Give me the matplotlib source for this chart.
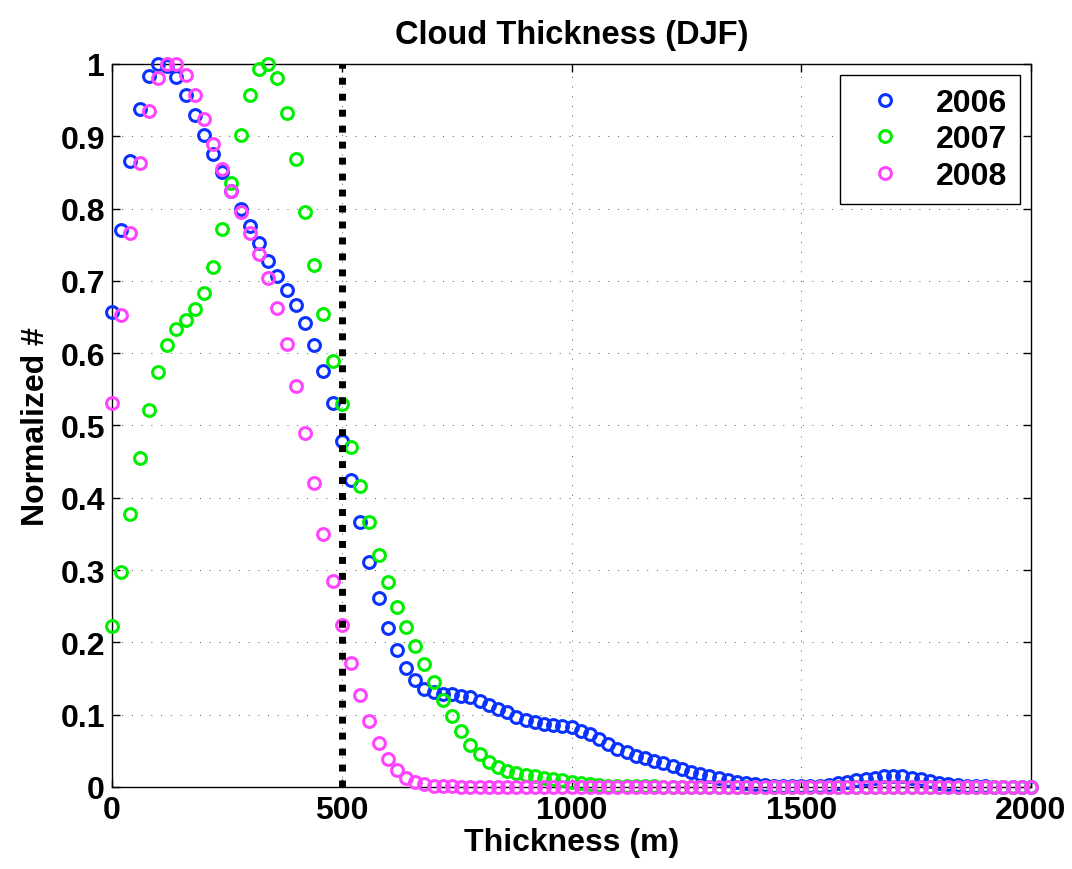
import matplotlib
matplotlib.use('Agg')
import matplotlib.pyplot as plt
import numpy as np

# Hrubka oblakov - stredy intervalov (m)
thickness = np.arange(0, 2001, 20)

# Normalizovane pocty pre jednotlive roky (odcitane z grafu)
n_2006 = [0.657, 0.770, 0.866, 0.938, 0.983, 1.000, 0.997, 0.982, 0.957, 0.930,
          0.902, 0.876, 0.850, 0.825, 0.800, 0.776, 0.752, 0.728, 0.707, 0.688,
          0.667, 0.642, 0.611, 0.575, 0.531, 0.479, 0.425, 0.367, 0.311, 0.262,
          0.220, 0.189, 0.164, 0.148, 0.136, 0.131, 0.129, 0.129, 0.126, 0.124,
          0.119, 0.113, 0.108, 0.103, 0.097, 0.092, 0.090, 0.087, 0.086, 0.084,
          0.083, 0.078, 0.073, 0.066, 0.059, 0.053, 0.048, 0.043, 0.040, 0.036,
          0.033, 0.029, 0.025, 0.021, 0.018, 0.015, 0.012, 0.010, 0.007, 0.005,
          0.004, 0.003, 0.002, 0.002, 0.002, 0.002, 0.002, 0.002, 0.003, 0.005,
          0.007, 0.009, 0.011, 0.013, 0.015, 0.015, 0.015, 0.013, 0.011, 0.008,
          0.006, 0.004, 0.003, 0.002, 0.001, 0.001, 0.000, 0.000, 0.000, 0.000,
          0.000]

n_2007 = [0.223, 0.297, 0.377, 0.455, 0.522, 0.574, 0.611, 0.633, 0.646, 0.661,
          0.683, 0.719, 0.772, 0.835, 0.902, 0.957, 0.993, 1.000, 0.981, 0.932,
          0.869, 0.795, 0.722, 0.654, 0.589, 0.530, 0.470, 0.416, 0.367, 0.321,
          0.283, 0.249, 0.221, 0.195, 0.170, 0.145, 0.120, 0.098, 0.077, 0.058,
          0.045, 0.035, 0.027, 0.022, 0.019, 0.017, 0.015, 0.013, 0.011, 0.009,
          0.007, 0.005, 0.004, 0.003, 0.002, 0.002, 0.001, 0.001, 0.001, 0.001,
          0.000, 0.000, 0.000, 0.000, 0.000, 0.000, 0.000, 0.000, 0.000, 0.000,
          0.000, 0.000, 0.000, 0.000, 0.000, 0.000, 0.000, 0.000, 0.000, 0.000,
          0.000, 0.000, 0.000, 0.000, 0.000, 0.000, 0.000, 0.000, 0.000, 0.000,
          0.000, 0.000, 0.000, 0.000, 0.000, 0.000, 0.000, 0.000, 0.000, 0.000,
          0.000]

n_2008 = [0.531, 0.653, 0.766, 0.863, 0.935, 0.981, 1.000, 1.000, 0.985, 0.957,
          0.924, 0.889, 0.855, 0.824, 0.795, 0.766, 0.737, 0.704, 0.663, 0.613,
          0.555, 0.490, 0.420, 0.350, 0.285, 0.224, 0.171, 0.127, 0.091, 0.061,
          0.039, 0.024, 0.013, 0.007, 0.004, 0.002, 0.001, 0.001, 0.000, 0.000,
          0.000, 0.000, 0.000, 0.000, 0.000, 0.000, 0.000, 0.000, 0.000, 0.000,
          0.000, 0.000, 0.000, 0.000, 0.000, 0.000, 0.000, 0.000, 0.000, 0.000,
          0.000, 0.000, 0.000, 0.000, 0.000, 0.000, 0.000, 0.000, 0.000, 0.000,
          0.000, 0.000, 0.000, 0.000, 0.000, 0.000, 0.000, 0.000, 0.000, 0.000,
          0.000, 0.000, 0.000, 0.000, 0.000, 0.000, 0.000, 0.000, 0.000, 0.000,
          0.000, 0.000, 0.000, 0.000, 0.000, 0.000, 0.000, 0.000, 0.000, 0.000,
          0.000]

years = ['2006', '2007', '2008']
colors = ['#0a32ff', '#00ee00', '#ff44ff']
threshold = 500

x_ticks = [0, 500, 1000, 1500, 2000]
y_ticks = [0, 0.1, 0.2, 0.3, 0.4, 0.5, 0.6, 0.7, 0.8, 0.9, 1]

plt.rcParams['font.family'] = ['Liberation Sans', 'DejaVu Sans']
plt.rcParams['font.weight'] = 'bold'
plt.rcParams['font.size'] = 23

fig = plt.figure(figsize=(10.72, 8.7), dpi=100)
ax = fig.add_subplot(111)
fig.subplots_adjust(left=0.1045, right=0.9618, bottom=0.0943, top=0.9253)

# Vykreslenie kruzkov pre jednotlive roky
for vals, year, col in zip([n_2006, n_2007, n_2008], years, colors):
    ax.plot(thickness, vals, linestyle='none', marker='o', markersize=8.5,
            markerfacecolor='none', markeredgecolor=col, markeredgewidth=2.2,
            label=year, clip_on=False, zorder=3)

# Hranica 500 m
ax.axvline(threshold, color='black', linewidth=5, linestyle=(0, (1, 1.3)), zorder=4)

ax.set_xlim(0, 2000)
ax.set_ylim(0, 1)
ax.set_xticks(x_ticks)
ax.set_xticklabels([str(t) for t in x_ticks])
ax.set_yticks(y_ticks)
ax.set_yticklabels(['%g' % t for t in y_ticks])

ax.grid(True, color='0.35', linewidth=0.7, linestyle=(0, (1, 9)))
ax.tick_params(direction='in', length=6, width=1, top=True, right=True)
ax.tick_params(axis='x', pad=6)
ax.tick_params(axis='y', pad=5)
for sp in ax.spines.values():
    sp.set_linewidth(1.0)

ax.set_title('Cloud Thickness (DJF)', fontweight='bold', fontsize=23.5, pad=15)
ax.set_xlabel('Thickness (m)', fontweight='bold', labelpad=1)
ax.set_ylabel('Normalized #', fontweight='bold', labelpad=7)

leg = ax.legend(loc='upper right', fancybox=False, edgecolor='black', framealpha=1,
                borderpad=0.4, labelspacing=0.2, handlelength=2.0, handletextpad=0.6,
                borderaxespad=0.35, numpoints=1)
leg.get_frame().set_linewidth(1.0)

fig.savefig('out.png', dpi=100)
